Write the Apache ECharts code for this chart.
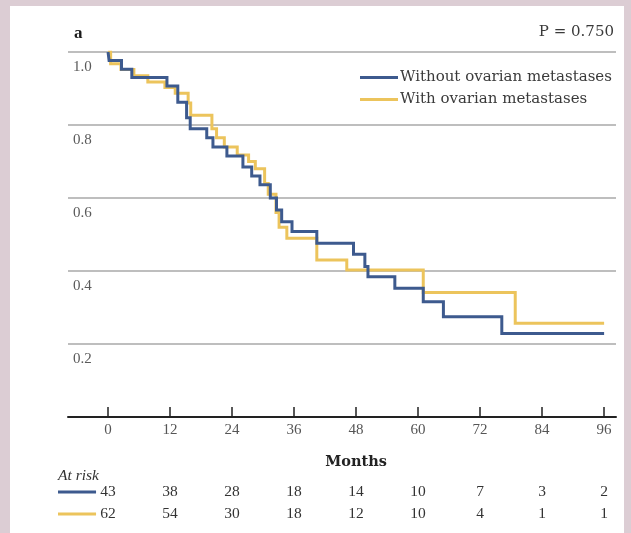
<!DOCTYPE html>
<html>
<head>
<meta charset="utf-8">
<script src="https://cdn.jsdelivr.net/npm/echarts@6/dist/echarts.min.js"></script>
<style>
  html, body { margin: 0; padding: 0; width: 631px; height: 533px; overflow: hidden; background: #dccdd4; }
  #panel { position: absolute; left: 10px; top: 6px; width: 614px; height: 527px; background: #ffffff; }
  #chart { position: absolute; left: 0; top: 0; width: 631px; height: 533px; }
</style>
</head>
<body>
<div id="panel"></div>
<div id="chart"></div>
<script>
// Kaplan-Meier steps: [month, survival proportion]
const withoutOvarian = [
  [0, 1.0], [0.2, 0.977], [2.6, 0.953], [4.6, 0.930], [11.4, 0.907], [13.5, 0.862],
  [15.2, 0.820], [15.9, 0.790], [19.1, 0.765], [20.3, 0.740], [23.0, 0.715], [26.1, 0.685],
  [27.8, 0.660], [29.4, 0.636], [31.4, 0.600], [32.6, 0.567], [33.6, 0.535], [35.6, 0.508],
  [40.4, 0.476], [47.5, 0.446], [49.7, 0.412], [50.3, 0.384], [55.5, 0.353], [61.0, 0.316],
  [64.9, 0.275], [76.2, 0.229], [96.0, 0.229]
];
const withOvarian = [
  [0, 1.0], [0.5, 0.968], [2.5, 0.952], [5.0, 0.935], [7.7, 0.918], [11.0, 0.903],
  [13.0, 0.887], [15.5, 0.860], [16.0, 0.827], [20.1, 0.790], [21.0, 0.765], [22.5, 0.740],
  [25.0, 0.718], [27.2, 0.700], [28.5, 0.680], [30.3, 0.640], [31.0, 0.610], [32.5, 0.560],
  [33.1, 0.520], [34.6, 0.490], [40.4, 0.430], [46.2, 0.403], [61.0, 0.341], [78.8, 0.257],
  [96.0, 0.257]
];

// Axis ticks and numbers at risk
const monthTicks = [0, 12, 24, 36, 48, 60, 72, 84, 96];
const atRiskWithout = [43, 38, 28, 18, 14, 10, 7, 3, 2];
const atRiskWith = [62, 54, 30, 18, 12, 10, 4, 1, 1];

const seriesNames = ['Without ovarian metastases', 'With ovarian metastases'];
const BLUE = '#3d5a8e';
const GOLD = '#ecc45c';
const SERIF = '"Liberation Serif", "DejaVu Serif", serif';
const WIDE_SERIF = '"DejaVu Serif", "Liberation Serif", serif';

const chart = echarts.init(document.getElementById('chart'), null, { renderer: 'canvas' });

function riskAxis(values, offset) {
  return {
    type: 'value', min: -7.75, max: 98.3, position: 'bottom', offset: offset,
    axisLine: { show: false }, axisTick: { show: false }, splitLine: { show: false },
    axisLabel: {
      customValues: monthTicks, margin: 0, verticalAlign: 'middle',
      fontFamily: SERIF, fontSize: 15.5, color: '#333',
      formatter: v => String(values[monthTicks.indexOf(v)])
    }
  };
}

chart.setOption({
  animation: false,
  grid: { left: 68, right: 15, top: 52, bottom: 116, containLabel: false },
  legend: {
    orient: 'vertical', left: 360, top: 70, itemWidth: 38, itemHeight: 3, itemGap: 7,
    icon: 'rect', padding: 0,
    textStyle: { fontFamily: WIDE_SERIF, fontSize: 15, color: '#3a3a3a', padding: [0, 0, 0, -3] },
    data: seriesNames
  },
  xAxis: [
    {
      type: 'value', min: -7.75, max: 98.3,
      axisLine: { lineStyle: { color: '#222', width: 2 } },
      axisTick: { customValues: monthTicks, inside: true, length: 10, lineStyle: { color: '#222', width: 1.5 } },
      axisLabel: { customValues: monthTicks, margin: 6, fontFamily: SERIF, fontSize: 15, color: '#555' },
      splitLine: { show: false }
    },
    riskAxis(atRiskWithout, 75),
    riskAxis(atRiskWith, 97)
  ],
  yAxis: {
    type: 'value', min: 0, max: 1, interval: 0.2,
    axisLine: { show: false }, axisTick: { show: false },
    axisLabel: {
      inside: true, margin: 5, showMinLabel: false, verticalAlign: 'top', padding: [8, 0, 0, 0],
      fontFamily: SERIF, fontSize: 15, color: '#5a5a5a',
      formatter: v => v.toFixed(1)
    },
    splitLine: { lineStyle: { color: '#a8a8a8', width: 1.5 } }
  },
  series: [
    {
      name: seriesNames[0], type: 'line', step: 'end', data: withoutOvarian, z: 3,
      showSymbol: false, color: BLUE, lineStyle: { width: 3, color: BLUE, join: 'miter' }
    },
    {
      name: seriesNames[1], type: 'line', step: 'end', data: withOvarian, z: 2,
      showSymbol: false, color: GOLD, lineStyle: { width: 3, color: GOLD, join: 'miter' }
    }
  ]
});

// Annotations placed from axis coordinates
const x0 = chart.convertToPixel({ xAxisIndex: 0 }, 0);
const x48 = chart.convertToPixel({ xAxisIndex: 0 }, 48);
const y1 = chart.convertToPixel({ yAxisIndex: 0 }, 1);
const yBase = chart.convertToPixel({ yAxisIndex: 0 }, 0);
const rowWithout = yBase + 75;
const rowWith = yBase + 97;

chart.setOption({
  graphic: [
    { type: 'text', left: 74, top: y1 - 27, style: { text: 'a', fontFamily: SERIF, fontSize: 17, fontWeight: 'bold', fill: '#1a1a1a' } },
    { type: 'text', right: 17, top: y1 - 27, style: { text: 'P = 0.750', fontFamily: WIDE_SERIF, fontSize: 15, fill: '#3a3a3a' } },
    { type: 'text', x: x48, y: yBase + 45, style: { text: 'Months', fontFamily: WIDE_SERIF, fontSize: 14.5, fontWeight: 'bold', fill: '#222', align: 'center', verticalAlign: 'middle' } },
    { type: 'text', x: 58, y: yBase + 59, style: { text: 'At risk', fontFamily: SERIF, fontSize: 15.5, fontStyle: 'italic', fill: '#333', verticalAlign: 'middle' } },
    { type: 'line', shape: { x1: 58, y1: rowWithout, x2: x0 - 12, y2: rowWithout }, style: { stroke: BLUE, lineWidth: 3 } },
    { type: 'line', shape: { x1: 58, y1: rowWith, x2: x0 - 12, y2: rowWith }, style: { stroke: GOLD, lineWidth: 3 } }
  ]
});
</script>
</body>
</html>
